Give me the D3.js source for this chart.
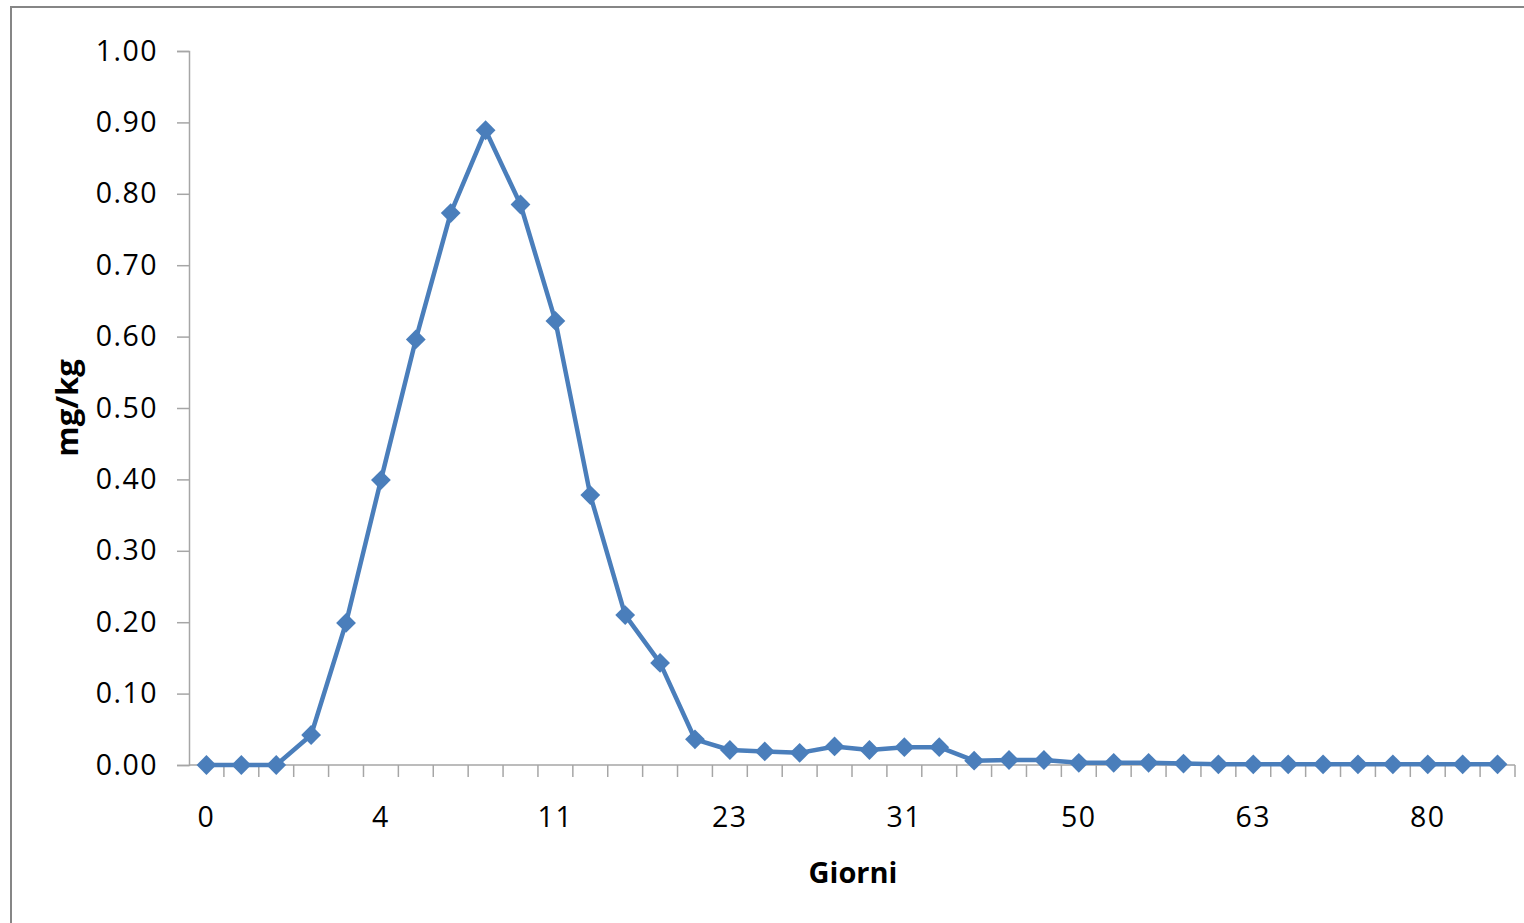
<!DOCTYPE html>
<html>
<head>
<meta charset="utf-8">
<script src="https://cdn.jsdelivr.net/npm/d3@7"></script>
<style>
  html, body { margin: 0; padding: 0; background: #fff; }
  svg { display: block; }
  .tick text { font-family: "Open Sans", sans-serif; }
</style>
</head>
<body>
<svg id="chart" width="1524" height="923"></svg>
<script>
// Categories (days); only every 5th label is shown on the axis
const days = ["0","0.5","1","2","3","4","5","6","7","9","11","13","15","17","20","23","24","25","27","29",
              "31","35","39","43","46","50","52","55","58","60","63","66","70","73","77","80","84","87"];
const values = [0.000,0.000,0.000,0.042,0.199,0.399,0.596,0.773,0.889,0.785,
                0.622,0.378,0.210,0.143,0.036,0.021,0.019,0.017,0.026,0.021,
                0.025,0.025,0.006,0.007,0.007,0.003,0.003,0.003,0.002,0.001,
                0.001,0.001,0.001,0.001,0.001,0.001,0.001,0.001];
const yTicks = [0,0.1,0.2,0.3,0.4,0.5,0.6,0.7,0.8,0.9,1.0];
const shownDays = ["0","4","11","23","31","50","63","80"];

(function () {
const svg = d3.select("#chart");

// outer frame
svg.append("rect")
  .attr("x", 11).attr("y", 7).attr("width", 1600).attr("height", 1000)
  .attr("fill", "#fff").attr("stroke", "#868686").attr("stroke-width", 2);

const pLeft = 189, pRight = 1515, pTop = 51, pBottom = 765;

const x = d3.scaleBand().domain(d3.range(days.length)).range([pLeft, pRight]).padding(0);
const y = d3.scaleLinear().domain([0, 1]).range([pBottom, pTop]);

const axisColor = "#a6a6a6";

// Y axis
const yAxis = d3.axisLeft(y).tickValues(yTicks).tickFormat(d3.format(".2f")).tickSize(12).tickPadding(19);
const gy = svg.append("g").attr("transform", `translate(${pLeft},0)`).call(yAxis);
gy.select(".domain").attr("stroke", axisColor).attr("stroke-width", 1.5);
gy.selectAll(".tick line").attr("stroke", axisColor).attr("stroke-width", 1.5);
gy.selectAll(".tick text").attr("font-size", 28.5).attr("fill", "#000").attr("letter-spacing", "1.5px");

// X axis: tick marks at category boundaries
const gx = svg.append("g").attr("transform", `translate(0,${pBottom})`);
gx.append("line").attr("x1", pLeft).attr("x2", pRight).attr("y1", 0).attr("y2", 0)
  .attr("stroke", axisColor).attr("stroke-width", 1.5);
const bounds = d3.range(1, days.length + 1).map(i => i < days.length ? x(i) : x(days.length - 1) + x.bandwidth());
gx.selectAll("line.tk").data(bounds).join("line").attr("class", "tk")
  .attr("x1", d => d).attr("x2", d => d).attr("y1", 0).attr("y2", 12)
  .attr("stroke", axisColor).attr("stroke-width", 1.5);
gx.selectAll("text.lbl").data(days.map((d, i) => ({d, i})).filter(o => shownDays.includes(o.d)))
  .join("text").attr("class", "lbl")
  .attr("x", o => x(o.i) + x.bandwidth() / 2).attr("y", 62)
  .attr("text-anchor", "middle")
  .attr("font-family", "Open Sans, sans-serif").attr("font-size", 28.5).attr("letter-spacing", "1.5px")
  .attr("fill", "#000").text(o => o.d);

// line
const color = "#4a7ebb";
const line = d3.line().x((d, i) => x(i) + x.bandwidth() / 2).y(d => y(d));
svg.append("path").datum(values).attr("d", line)
  .attr("fill", "none").attr("stroke", color).attr("stroke-width", 4.5).attr("stroke-linejoin", "round");

// diamond markers
svg.selectAll("path.mk").data(values).join("path").attr("class", "mk")
  .attr("d", d3.symbol().type(d3.symbolDiamond2).size(250))
  .attr("transform", (d, i) => `translate(${x(i) + x.bandwidth() / 2},${y(d)})`)
  .attr("fill", color);

// axis titles
svg.append("text").attr("x", 853).attr("y", 883).attr("text-anchor", "middle")
  .attr("font-family", "Open Sans, sans-serif").attr("font-weight", "bold").attr("font-size", 29)
  .attr("fill", "#000").text("Giorni");
svg.append("text").attr("transform", "translate(78,408) rotate(-90)").attr("text-anchor", "middle")
  .attr("font-family", "Open Sans, sans-serif").attr("font-weight", "bold").attr("font-size", 31)
  .attr("fill", "#000").text("mg/kg");
})();
</script>
</body>
</html>
